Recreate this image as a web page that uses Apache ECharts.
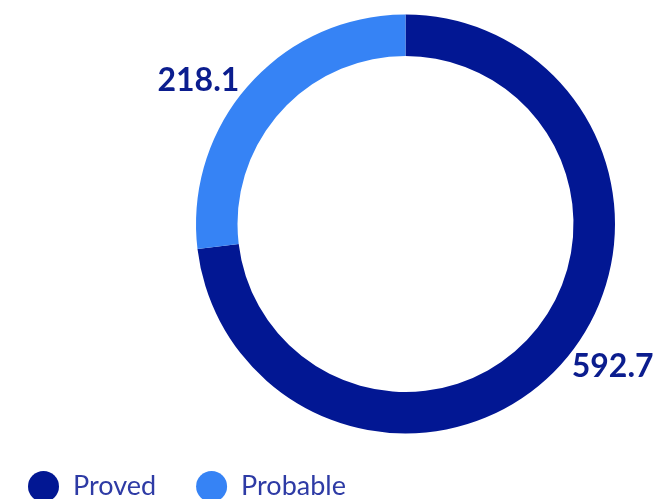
<!DOCTYPE html>
<html>
<head>
<meta charset="utf-8">
<script src="https://cdn.jsdelivr.net/npm/echarts@6/dist/echarts.min.js"></script>
<style>
  html, body { margin: 0; padding: 0; background: #fff; }
  #chart { width: 660px; height: 499px; }
</style>
</head>
<body>
<div id="chart"></div>
<script>
const categories = ['Proved', 'Probable']
const values = [592.7, 218.1]
const colors = ['#021793', '#3683F5']

const chart = echarts.init(document.getElementById('chart'))

const option = {
  animation: false,
  backgroundColor: '#fff',
  color: colors,
  legend: {
    data: categories,
    left: 28,
    top: 471,
    padding: 0,
    icon: 'circle',
    itemWidth: 31,
    itemHeight: 31,
    itemGap: 40,
    textStyle: { color: '#2E3BA5', fontSize: 27, fontFamily: 'Lato', padding: [0, 0, 0, 9] }
  },
  series: [
    {
      type: 'pie',
      center: [405.5, 224],
      radius: [168, 209.5],
      startAngle: 90,
      label: {
        show: true,
        position: 'outside',
        color: '#0B1D8E',
        fontSize: 32,
        fontWeight: 'bold',
        fontFamily: 'Lato',
        overflow: 'none',
        edgeDistance: 0,
        formatter: p => p.value.toFixed(1)
      },
      labelLine: { show: false, length: 6, length2: 0 },
      emphasis: { disabled: true },
      data: categories.map((name, i) => ({ name, value: values[i] }))
    }
  ]
}

chart.setOption(option)
</script>
</body>
</html>
